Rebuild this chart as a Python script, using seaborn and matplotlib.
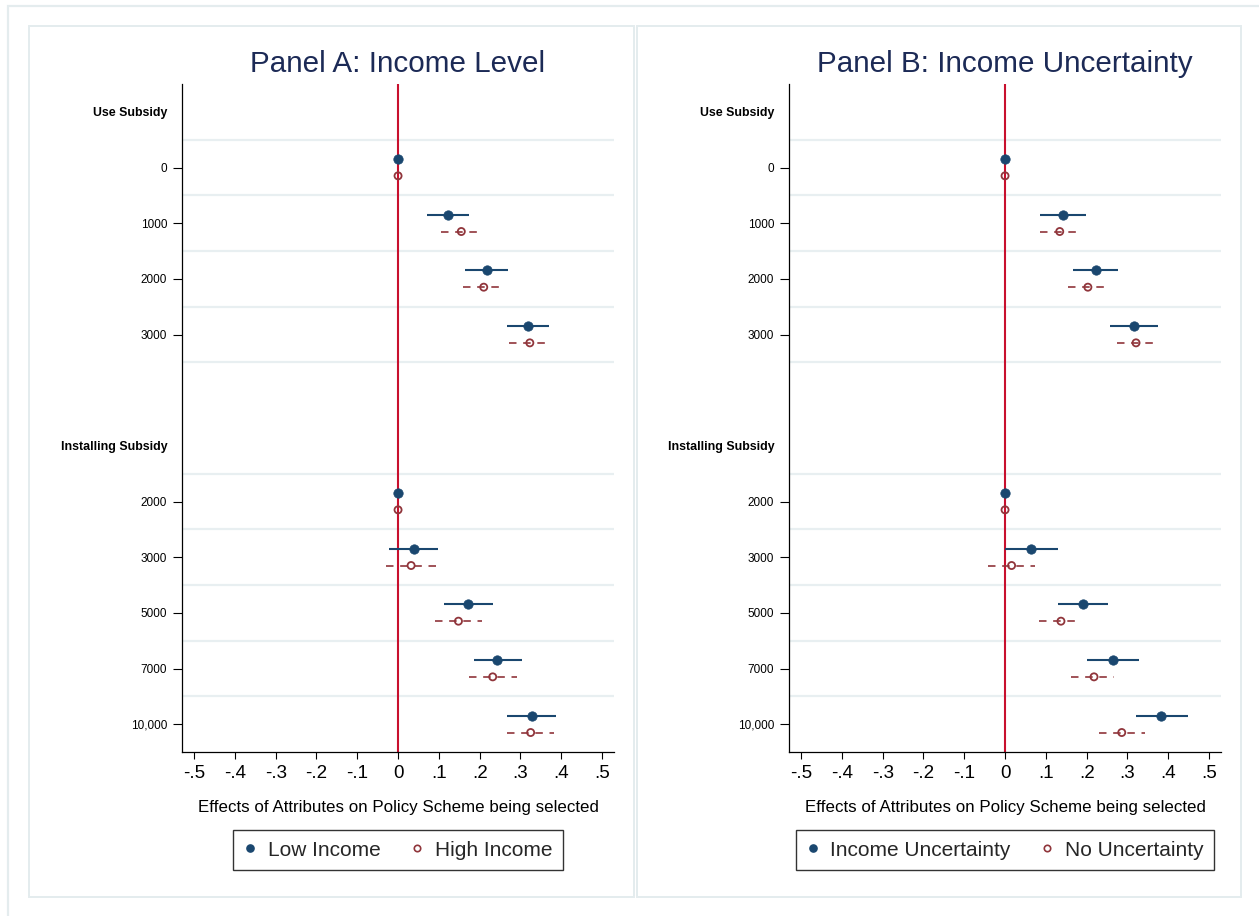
import numpy as np
import pandas as pd
import matplotlib
matplotlib.use("Agg")
import matplotlib.pyplot as plt
from matplotlib.lines import Line2D
from matplotlib.patches import Rectangle
import seaborn as sns

# Row layout of the coefficient plot (top to bottom)
row_labels = ["Use Subsidy", "0", "1000", "2000", "3000", "",
              "Installing Subsidy", "2000", "3000", "5000", "7000", "10,000"]
header_rows = [0, 6]
coef_rows = [1, 2, 3, 4, 7, 8, 9, 10, 11]
grid_rows = [0.5, 1.5, 2.5, 3.5, 4.5, 6.5, 7.5, 8.5, 9.5, 10.5]
x_ticks = [-0.5, -0.4, -0.3, -0.2, -0.1, 0, 0.1, 0.2, 0.3, 0.4, 0.5]
x_tick_labels = ["-.5", "-.4", "-.3", "-.2", "-.1", "0", ".1", ".2", ".3", ".4", ".5"]

# Panel A: income level
low_income = [0, 0.122, 0.217, 0.319, 0, 0.038, 0.172, 0.243, 0.328]
low_income_lo = [0, 0.070, 0.164, 0.266, 0, -0.022, 0.113, 0.185, 0.267]
low_income_hi = [0, 0.175, 0.270, 0.371, 0, 0.098, 0.232, 0.304, 0.388]
high_income = [0, 0.155, 0.210, 0.323, 0, 0.032, 0.148, 0.232, 0.325]
high_income_lo = [0, 0.105, 0.160, 0.272, 0, -0.029, 0.091, 0.175, 0.267]
high_income_hi = [0, 0.205, 0.259, 0.373, 0, 0.093, 0.205, 0.291, 0.382]

# Panel B: income uncertainty
uncertain = [0, 0.141, 0.222, 0.315, 0, 0.063, 0.190, 0.264, 0.383]
uncertain_lo = [0, 0.086, 0.167, 0.256, 0, 0.000, 0.129, 0.200, 0.322]
uncertain_hi = [0, 0.199, 0.278, 0.374, 0, 0.129, 0.252, 0.328, 0.449]
certain = [0, 0.134, 0.203, 0.321, 0, 0.016, 0.137, 0.218, 0.286]
certain_lo = [0, 0.086, 0.155, 0.274, 0, -0.042, 0.082, 0.162, 0.231]
certain_hi = [0, 0.185, 0.252, 0.369, 0, 0.074, 0.181, 0.268, 0.343]

NAVY = "#1a476f"
MAROON = "#90353b"
ZERO_RED = "#c8102e"
TITLE_BLUE = "#1c2a56"
FRAME = "#e4ecee"

sns.set_theme(style="white")
plt.rcParams["font.family"] = ["Liberation Sans", "DejaVu Sans"]

W, H = 1259, 916
fig = plt.figure(figsize=(W / 100, H / 100), dpi=100)
fig.patch.set_facecolor("white")


def fx(px):
    return px / W


def fy(py):
    return 1 - py / H


# outer frame and the two panel boxes
fig.patches.append(Rectangle((fx(8), fy(960)), fx(1300), fy(6) - fy(960),
                             transform=fig.transFigure, fill=False,
                             edgecolor=FRAME, lw=1.6, zorder=0))
for x0, x1 in [(28.5, 634), (637, 1241)]:
    fig.patches.append(Rectangle((fx(x0), fy(897)), fx(x1) - fx(x0), fy(26) - fy(897),
                                 transform=fig.transFigure, fill=False,
                                 edgecolor=FRAME, lw=1.4, zorder=0))

X_LIM = (-0.53, 0.53)
ax_w = 432.5
ax_a = fig.add_axes([fx(181.8), fy(752), fx(ax_w), fy(84) - fy(752)])
ax_b = fig.add_axes([fx(788.8), fy(752), fx(ax_w), fy(84) - fy(752)])


def draw_panel(ax, title, first, second, labels):
    ax.set_facecolor("white")
    ax.set_xlim(*X_LIM)
    ax.set_ylim(11.5, -0.5)

    # light separators between coefficient rows
    ax.set_yticks(grid_rows, minor=True)
    ax.grid(which="minor", axis="y", color="#e8eff1", lw=1.6)
    ax.grid(which="major", visible=False)
    ax.tick_params(axis="y", which="minor", length=0)

    ax.axvline(0, color=ZERO_RED, lw=1.5, zorder=2)

    offsets = [-0.15, 0.15]
    for (est, lo, hi), off, kind in zip([first, second], offsets, ["solid", "hollow"]):
        df = pd.DataFrame({"est": est, "lo": lo, "hi": hi,
                           "y": np.array(coef_rows, dtype=float) + off})
        if kind == "solid":
            ax.hlines(df["y"], df["lo"], df["hi"], colors=NAVY, lw=1.5, zorder=3)
            sns.scatterplot(data=df, x="est", y="y", ax=ax, color=NAVY,
                            edgecolor=NAVY, s=46, linewidth=0.5, zorder=4,
                            legend=False)
        else:
            ax.hlines(df["y"], df["lo"], df["hi"], colors=MAROON, lw=1.2,
                      linestyles=(0, (4.5, 4)), zorder=3)
            sns.scatterplot(data=df, x="est", y="y", ax=ax, marker="o",
                            facecolor="none", edgecolor=MAROON, s=26,
                            linewidth=1.3, zorder=4, legend=False)

    # y axis: category labels, with group headers in bold and no tick mark
    rows = list(range(len(row_labels)))
    ax.set_yticks(rows)
    ax.set_yticklabels(row_labels)
    ax.tick_params(axis="y", which="major", length=6.5, width=0.8, pad=4,
                   labelsize=8.5, colors="black", left=True)
    for i, (tick, lbl) in enumerate(zip(ax.yaxis.get_major_ticks(), ax.get_yticklabels())):
        if i in header_rows:
            tick.tick1line.set_visible(False)
            lbl.set_fontweight("bold")
            lbl.set_fontsize(8.9)
        elif row_labels[i] == "":
            tick.tick1line.set_visible(False)

    ax.set_xticks(x_ticks)
    ax.set_xticklabels(x_tick_labels)
    ax.tick_params(axis="x", length=5, width=0.8, pad=4, labelsize=13.5,
                   colors="black", bottom=True)

    for side in ["top", "right"]:
        ax.spines[side].set_visible(False)
    for side in ["left", "bottom"]:
        ax.spines[side].set_color("black")
        ax.spines[side].set_linewidth(0.9)

    ax.set_ylabel("")
    ax.set_xlabel("Effects of Attributes on Policy Scheme being selected",
                  fontsize=12.2, color="black")
    ax.xaxis.set_label_coords(0.5, -0.0838)
    ax.xaxis.label.set_va("center")

    ax.set_title(title, fontsize=21.3, color=TITLE_BLUE, pad=8.5)

    handles = [
        Line2D([], [], ls="none", marker="o", color=NAVY, markersize=5.2),
        Line2D([], [], ls="none", marker="o", markerfacecolor="none",
               markeredgecolor=MAROON, markeredgewidth=1.2, markersize=4.6),
    ]
    leg = ax.legend(handles, labels, loc="upper center",
                    bbox_to_anchor=(0.5, -0.117), ncol=2, frameon=True,
                    fancybox=False, edgecolor="black", fontsize=15,
                    borderaxespad=0, handlelength=0.6, handletextpad=0.55,
                    columnspacing=1.45, borderpad=0.5)
    leg.get_frame().set_linewidth(1.0)


draw_panel(ax_a, "Panel A: Income Level",
           (low_income, low_income_lo, low_income_hi),
           (high_income, high_income_lo, high_income_hi),
           ["Low Income", "High Income"])
draw_panel(ax_b, "Panel B: Income Uncertainty",
           (uncertain, uncertain_lo, uncertain_hi),
           (certain, certain_lo, certain_hi),
           ["Income Uncertainty", "No Uncertainty"])

fig.savefig("out.png", dpi=100, facecolor="white")
